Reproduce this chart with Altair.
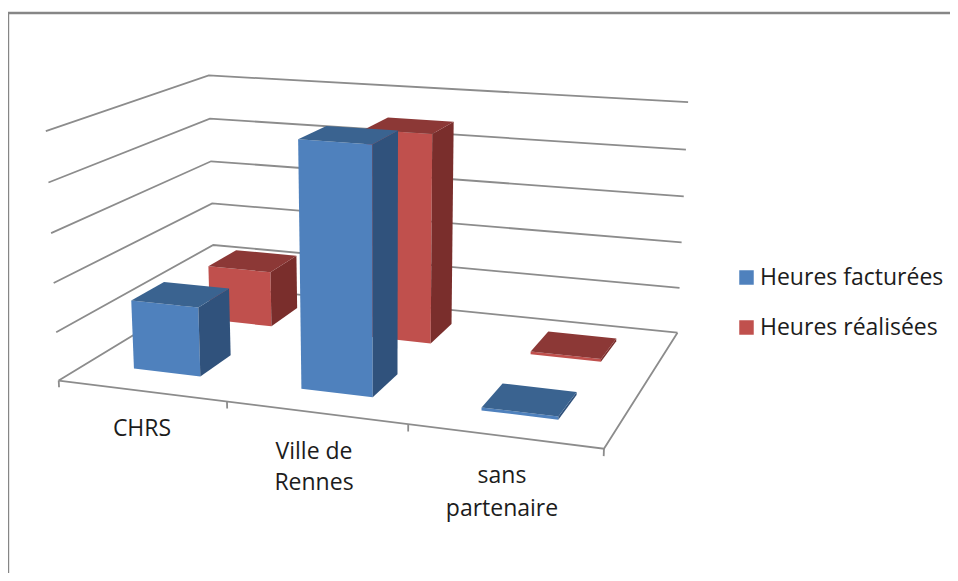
import numpy as np
import pandas as pd
import altair as alt

categories = ["CHRS", "Ville de Rennes", "sans partenaire"]
category_lines = [["CHRS"], ["Ville de", "Rennes"], ["sans", "partenaire"]]
heures_facturees = [1.43, 4.93, 0.06]
heures_realisees = [1.22, 4.48, 0.06]
gridlevels = [0, 1, 2, 3, 4, 5]
series_names = ["Heures facturées", "Heures réalisées"]

# perspective camera mapping (category, depth, value) to the picture
P = np.array([[160.17098787557944, 197.3368566038482, -2.928719673162684, 58.706316288654236],
              [6.683292151883918, -38.86412732485603, -50.89706949088091, 380.5297132559189],
              [-0.03572677442668069, 0.19442643745177537, -0.007624876264452232, 1.0]])

def proj(u, v, w):
    h = P @ np.array([u, v, w, 1.0])
    return float(h[0] / h[2]), float(h[1] / h[2])

lines = []
def add_line(name, pts):
    for i, (u, v, w) in enumerate(pts):
        x, y = proj(u, v, w)
        lines.append(dict(id=name, ord=i, x=x, y=y))

for w in gridlevels:
    add_line(f"g{w}", [(0, 0, w), (0, 1, w), (3, 1, w)])
add_line("floor", [(3, 1, 0), (3, 0, 0), (0, 0, 0)])
for u in range(4):
    add_line(f"t{u}", [(u, 0, 0), (u, 0, -0.14)])

U0, U1 = 0.29, 0.695
DEPTHS = {"Heures facturées": (0.16, 0.36), "Heures réalisées": (0.655, 0.858)}
polys = []
def add_poly(name, key, pts):
    for i, (u, v, w) in enumerate(pts):
        x, y = proj(u, v, w)
        polys.append(dict(id=name, ord=i, x=x, y=y, face=key))

for s, vals in [("Heures réalisées", heures_realisees), ("Heures facturées", heures_facturees)]:
    v0, v1 = DEPTHS[s]
    for c, h in enumerate(vals):
        a, b = c + U0, c + U1
        add_poly(f"{s}{c}f", s, [(a, v0, 0), (b, v0, 0), (b, v0, h), (a, v0, h), (a, v0, 0)])
        add_poly(f"{s}{c}s", s + " côté", [(b, v0, 0), (b, v1, 0), (b, v1, h), (b, v0, h), (b, v0, 0)])
        add_poly(f"{s}{c}t", s + " dessus", [(a, v0, h), (b, v0, h), (b, v1, h), (a, v1, h), (a, v0, h)])

labels = []
label_pos = [[(142, 429)], [(314, 452), (314, 483)], [(502, 476), (502, 509)]]
for ls, ps in zip(category_lines, label_pos):
    for t, (x, y) in zip(ls, ps):
        labels.append(dict(t=t, x=x, y=y))

X = alt.X("x:Q", scale=alt.Scale(domain=[8, 950], nice=False, zero=False), axis=None)
Y = alt.Y("y:Q", scale=alt.Scale(domain=[573, 8], nice=False, zero=False), axis=None)

frame = alt.Chart(pd.DataFrame(dict(id="f", ord=[0, 1, 2], x=[8, 8, 950], y=[573, 13, 13]))).mark_line(
    color="#868686", strokeWidth=2.4, clip=False
).encode(x=X, y=Y, order="ord:Q")

grid = alt.Chart(pd.DataFrame(lines)).mark_line(color="#8c8c8c", strokeWidth=1.8).encode(
    x=X, y=Y, detail="id:N", order="ord:Q")

domain = ["Heures facturées", "Heures réalisées", "Heures facturées côté", "Heures réalisées côté",
          "Heures facturées dessus", "Heures réalisées dessus"]
rng = ["#4F81BD", "#C0504D", "#30527C", "#7A2E2C", "#3A6390", "#8C3836"]
bars = alt.Chart(pd.DataFrame(polys)).mark_line(strokeWidth=0, fillOpacity=1).encode(
    x=X, y=Y, detail="id:N", order="ord:Q",
    fill=alt.Fill("face:N", scale=alt.Scale(domain=domain, range=rng),
                  legend=alt.Legend(title=None, values=series_names, orient="none",
                                    legendX=727, legendY=258, symbolType="square", symbolSize=210,
                                    symbolStrokeWidth=0, labelFont="Open Sans", labelFontSize=23,
                                    labelColor="#1c1c1c", rowPadding=26, labelOffset=2,
                                    labelLimit=300)))

text = alt.Chart(pd.DataFrame(labels)).mark_text(font="Open Sans", fontSize=23, color="#1c1c1c",
                                                 align="center", baseline="middle").encode(x=X, y=Y, text="t:N")

chart = alt.layer(frame, grid, bars, text).properties(
    width=942, height=565, padding=0, autosize=alt.AutoSizeParams(type="none"), background="white"
).configure_view(strokeWidth=0)

chart.save("out.html", embed_options={"renderer": "svg", "actions": False})
